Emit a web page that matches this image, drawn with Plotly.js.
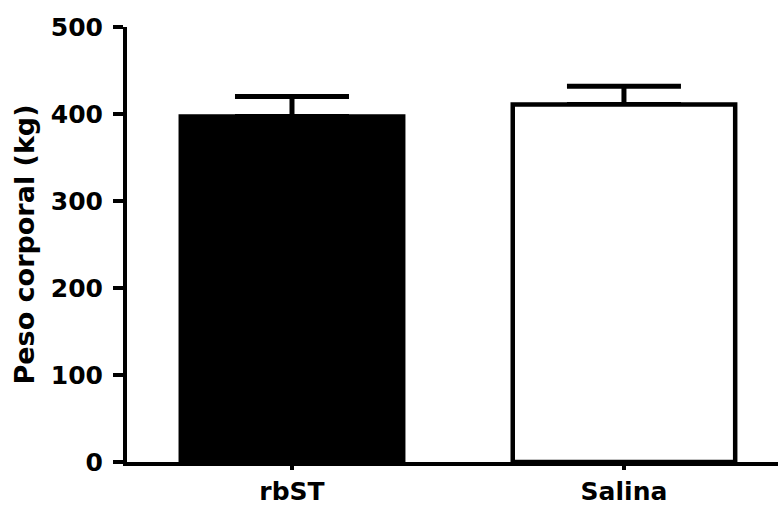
<!DOCTYPE html>
<html>
<head>
<meta charset="utf-8">
<script src="https://cdn.plot.ly/plotly-3.0.1.min.js"></script>
<style>html,body{margin:0;padding:0;background:#fff;}#chart{width:778px;height:506px;}</style>
</head>
<body>
<div id="chart"></div>
<script>
const categories = ['rbST', 'Salina'];
const pesoMedio = [397, 411];
const pesoErro = [23, 21];
const barFill = ['#000000', '#ffffff'];
const yTickValues = [0, 100, 200, 300, 400, 500];

const fontFamily = '"DejaVu Sans", "Liberation Sans", Arial, sans-serif';

// error bars drawn first (under the bars) so that the lower cap is hidden by the bar outline
const errorTrace = {
  type: 'bar',
  x: categories,
  y: pesoMedio,
  width: 0.67,
  marker: { color: 'rgba(0,0,0,0)', line: { width: 0 } },
  error_y: {
    type: 'data', symmetric: false,
    array: pesoErro, arrayminus: pesoErro.map(() => 0),
    color: '#000', thickness: 5, width: 57
  },
  hoverinfo: 'none'
};

const barTrace = {
  type: 'bar',
  x: categories,
  y: pesoMedio,
  width: 0.67,
  marker: { color: barFill, line: { color: '#000', width: 4.5 } },
  hoverinfo: 'none'
};

const layout = {
  width: 778, height: 506,
  margin: { l: 127, r: 0, t: 27, b: 44 },
  paper_bgcolor: '#fff', plot_bgcolor: '#fff',
  showlegend: false,
  barmode: 'overlay',
  font: { family: fontFamily, color: '#000' },
  xaxis: {
    type: 'category',
    range: [-0.497, 1.464],
    showline: true, linecolor: '#000', linewidth: 4,
    ticks: 'outside', ticklen: 4, tickwidth: 4, tickcolor: '#000',
    tickfont: { family: fontFamily, size: 25, weight: 'bold', color: '#000' },
    showgrid: false, zeroline: false, fixedrange: true
  },
  yaxis: {
    range: [0, 500],
    tickvals: yTickValues,
    ticktext: yTickValues.map(String),
    showline: true, linecolor: '#000', linewidth: 4,
    ticks: 'outside', ticklen: 10, tickwidth: 4, tickcolor: '#000',
    ticklabelstandoff: 5,
    tickfont: { family: fontFamily, size: 25, weight: 'bold', color: '#000' },
    title: { text: 'Peso corporal (kg)', font: { family: fontFamily, size: 27, weight: 'bold', color: '#000' }, standoff: 9 },
    showgrid: false, zeroline: false, fixedrange: true
  }
};

Plotly.newPlot('chart', [errorTrace, barTrace], layout, { staticPlot: true, displayModeBar: false });
</script>
</body>
</html>
